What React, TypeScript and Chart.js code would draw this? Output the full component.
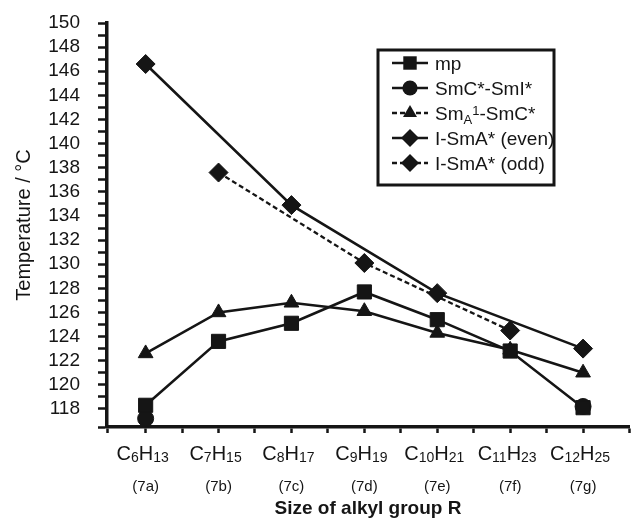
import React, { useEffect, useRef } from 'react';
import { Chart, registerables } from 'chart.js';

Chart.register(...registerables);

const INK = '#151515';
const FONT = '"Liberation Sans", Arial, Helvetica, sans-serif';

// Categories: alkyl group R = CnH(2n+1), compounds 7a..7g
const carbonCounts = [6, 7, 8, 9, 10, 11, 12];
const hydrogenCounts = [13, 15, 17, 19, 21, 23, 25];
const compoundLabels = ['(7a)', '(7b)', '(7c)', '(7d)', '(7e)', '(7f)', '(7g)'];

// Y axis tick labels
const yTickValues = [118, 120, 122, 124, 126, 128, 130, 132, 134, 136, 138, 140, 142, 144, 146, 148, 150];

// Series values (°C)
const mpTemps = [118.3, 123.6, 125.1, 127.7, 125.4, 122.8, 118.1];
const smcSmiTemps = [117.2, null, null, null, null, null, 118.2];
const smaSmcTemps = [122.6, 126.0, 126.8, 126.1, 124.3, 122.9, 121.0];
const isoEvenTemps = [146.6, null, 134.9, null, 127.6, null, 123.0];
const isoOddTemps = [null, 137.6, null, 130.1, null, 124.5, null];

const seriesNames = ['mp', 'SmC*-SmI*', 'SmA1-SmC*', 'I-SmA* (even)', 'I-SmA* (odd)'];

type Part = { t: string; s: number; dy: number; bold?: boolean };

function drawRich(ctx: CanvasRenderingContext2D, parts: Part[], x: number, y: number, align: 'left' | 'center') {
  let total = 0;
  parts.forEach((p) => {
    ctx.font = `${p.bold ? 'bold ' : ''}${p.s}px ${FONT}`;
    total += ctx.measureText(p.t).width;
  });
  let cx = align === 'center' ? x - total / 2 : x;
  ctx.textAlign = 'left';
  ctx.textBaseline = 'alphabetic';
  parts.forEach((p) => {
    ctx.font = `${p.bold ? 'bold ' : ''}${p.s}px ${FONT}`;
    ctx.fillText(p.t, cx, y + p.dy);
    cx += ctx.measureText(p.t).width;
  });
}

function drawMarker(ctx: CanvasRenderingContext2D, style: string, x: number, y: number, r: number) {
  ctx.beginPath();
  if (style === 'rect') {
    const s = r * Math.SQRT1_2;
    ctx.rect(x - s, y - s, 2 * s, 2 * s);
  } else if (style === 'circle') {
    ctx.arc(x, y, r, 0, Math.PI * 2);
  } else if (style === 'triangle') {
    ctx.moveTo(x, y - r);
    ctx.lineTo(x + Math.sin((2 * Math.PI) / 3) * r, y - Math.cos((2 * Math.PI) / 3) * r);
    ctx.lineTo(x + Math.sin((4 * Math.PI) / 3) * r, y - Math.cos((4 * Math.PI) / 3) * r);
    ctx.closePath();
  } else {
    ctx.moveTo(x - r, y);
    ctx.lineTo(x, y - r);
    ctx.lineTo(x + r, y);
    ctx.lineTo(x, y + r);
    ctx.closePath();
  }
  ctx.fill();
}

const formulaPlugin = {
  id: 'formulaLabels',
  afterDraw(chart: any) {
    const xs = chart.scales.x;
    const ctx: CanvasRenderingContext2D = chart.ctx;
    ctx.save();
    ctx.fillStyle = INK;
    carbonCounts.forEach((c, i) => {
      const parts: Part[] = [
        { t: 'C', s: 20, dy: 0 },
        { t: String(c), s: 14, dy: 2 },
        { t: 'H', s: 20, dy: 0 },
        { t: String(hydrogenCounts[i]), s: 14, dy: 2 },
      ];
      drawRich(ctx, parts, xs.getPixelForValue(i) - 3, xs.top + 33, 'center');
    });
    ctx.restore();
  },
};

const legendPlugin = {
  id: 'boxedLegend',
  afterDatasetsDraw(chart: any) {
    const ctx: CanvasRenderingContext2D = chart.ctx;
    const left = 378, top = 50, w = 176, h = 135;
    ctx.save();
    ctx.fillStyle = '#ffffff';
    ctx.fillRect(left, top, w, h);
    ctx.lineWidth = 3;
    ctx.strokeStyle = INK;
    ctx.setLineDash([]);
    ctx.strokeRect(left, top, w, h);
    chart.data.datasets.forEach((ds: any, i: number) => {
      const y = top + 13 + i * 25;
      ctx.strokeStyle = INK;
      ctx.lineWidth = 2.5;
      ctx.setLineDash(i === 2 ? [5, 3] : ds.borderDash || []);
      ctx.beginPath();
      ctx.moveTo(left + 14, y);
      ctx.lineTo(left + 50, y);
      ctx.stroke();
      ctx.setLineDash([]);
      ctx.fillStyle = INK;
      drawMarker(ctx, ds.pointStyle, left + 32, y, ds.pointRadius * 0.95);
      const base = y + 7;
      const tx = left + 57;
      if (i === 2) {
        drawRich(ctx, [
          { t: 'Sm', s: 19, dy: 0 },
          { t: 'A', s: 13, dy: 4 },
          { t: '1', s: 13, dy: -5 },
          { t: '-SmC*', s: 19, dy: 0 },
        ], tx, base, 'left');
      } else {
        drawRich(ctx, [{ t: seriesNames[i], s: 19, dy: 0 }], tx, base, 'left');
      }
    });
    ctx.restore();
  },
};

function toPoints(values: (number | null)[]) {
  return values.map((v, i) => ({ x: i, y: v }));
}

function isWhole(v: number) {
  return Math.abs(v - Math.round(v)) < 1e-6;
}

export default function App() {
  const canvasRef = useRef<HTMLCanvasElement | null>(null);

  useEffect(() => {
    if (!canvasRef.current) return;
    const common = {
      borderColor: INK,
      backgroundColor: INK,
      pointBackgroundColor: INK,
      pointBorderColor: INK,
      pointBorderWidth: 1,
      borderWidth: 2.6,
      tension: 0,
    };
    const chart = new Chart(canvasRef.current, {
      type: 'line',
      data: {
        datasets: [
          { ...common, label: seriesNames[0], data: toPoints(mpTemps), pointStyle: 'rect', pointRadius: 10, spanGaps: false },
          { ...common, label: seriesNames[1], data: toPoints(smcSmiTemps), pointStyle: 'circle', pointRadius: 8, spanGaps: false },
          { ...common, label: seriesNames[2], data: toPoints(smaSmcTemps), pointStyle: 'triangle', pointRadius: 8.5, spanGaps: false },
          { ...common, label: seriesNames[3], data: toPoints(isoEvenTemps), pointStyle: 'rectRot', pointRadius: 9.5, spanGaps: true },
          { ...common, label: seriesNames[4], data: toPoints(isoOddTemps), pointStyle: 'rectRot', pointRadius: 9.5, spanGaps: true, borderDash: [5, 3], borderWidth: 2.3 },
        ] as any,
      },
      options: {
        animation: false,
        responsive: false,
        devicePixelRatio: 1,
        events: [],
        layout: { padding: { top: 23, right: 8, bottom: 0, left: 0 } },
        plugins: {
          legend: { display: false },
          tooltip: { enabled: false },
        },
        scales: {
          x: {
            type: 'linear',
            position: 'bottom',
            min: -0.53,
            max: 6.63,
            afterFit: (scale: any) => {
              scale.height = 97;
              scale.paddingLeft = 0;
              scale.paddingRight = 0;
            },
            border: { display: true, color: INK, width: 3.5 },
            grid: { drawOnChartArea: false, drawTicks: true, tickLength: 6, tickWidth: 2.5, tickColor: INK, color: INK },
            ticks: {
              stepSize: 0.5,
              autoSkip: false,
              maxRotation: 0,
              padding: 45,
              color: INK,
              font: { family: FONT, size: 15 },
              callback: (v: any) => (isWhole(Number(v)) && Number(v) >= 0 && Number(v) < compoundLabels.length ? compoundLabels[Math.round(Number(v))] : ''),
            },
            title: {
              display: true,
              text: 'Size of alkyl group R',
              color: INK,
              font: { family: FONT, size: 19, weight: 'bold' },
              padding: { top: 0, bottom: 4 },
            },
          },
          y: {
            type: 'linear',
            min: 116.5,
            max: 150,
            afterFit: (scale: any) => {
              scale.width = 107;
              scale.paddingTop = 0;
              scale.paddingBottom = 0;
            },
            border: { display: true, color: INK, width: 3.5 },
            grid: { drawOnChartArea: false, drawTicks: true, tickLength: 9, tickWidth: 2.5, tickColor: INK, color: INK },
            ticks: {
              stepSize: 1,
              autoSkip: false,
              padding: 18,
              color: INK,
              font: { family: FONT, size: 19 },
              callback: (v: any) => (yTickValues.includes(Number(v)) ? String(v) : ''),
            },
            title: {
              display: true,
              text: 'Temperature / °C',
              color: INK,
              font: { family: FONT, size: 20 },
              padding: { top: 12, bottom: 0 },
            },
          },
        },
      } as any,
      plugins: [formulaPlugin, legendPlugin],
    });
    return () => chart.destroy();
  }, []);

  return (
    <div style={{ position: 'absolute', left: 0, top: 0, width: 640, height: 524, background: '#fff' }}>
      <canvas ref={canvasRef} width={640} height={524} style={{ display: 'block', width: 640, height: 524 }} />
    </div>
  );
}
